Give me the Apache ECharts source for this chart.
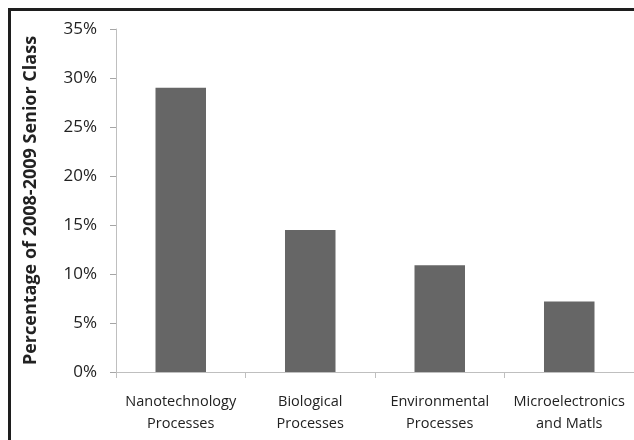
<!DOCTYPE html>
<html>
<head>
<meta charset="utf-8">
<script src="https://cdn.jsdelivr.net/npm/echarts@6/dist/echarts.min.js"></script>
<style>html,body{margin:0;padding:0;background:#fff}#c{width:634px;height:440px}</style>
</head>
<body>
<div id="c"></div>
<script>
const categories = ['Nanotechnology\nProcesses', 'Biological\nProcesses', 'Environmental\nProcesses', 'Microelectronics\nand Matls'];
const values = [29.0, 14.5, 10.9, 7.2];
const yAxisName = 'Percentage of 2008-2009 Senior Class';
const yMin = 0, yMax = 35, yStep = 5;

const chart = echarts.init(document.getElementById('c'), null, {renderer: 'canvas'});
const FONT = '"Open Sans", "Liberation Sans", sans-serif';
chart.setOption({
  animation: false,
  backgroundColor: '#fff',
  grid: {left: 116, right: 0, top: 29, bottom: 68},
  xAxis: {
    type: 'category',
    data: categories,
    axisLine: {lineStyle: {color: '#bfbfbf', width: 1}},
    axisTick: {show: true, length: 6, lineStyle: {color: '#bfbfbf'}},
    axisLabel: {interval: 0, color: '#222', fontFamily: FONT, fontSize: 14.5, lineHeight: 22, margin: 19}
  },
  yAxis: {
    type: 'value',
    min: yMin, max: yMax, interval: yStep,
    name: yAxisName,
    nameLocation: 'middle',
    nameGap: 76,
    nameTextStyle: {color: '#222', fontFamily: FONT, fontSize: 18, fontWeight: 'bold'},
    axisLine: {show: true, lineStyle: {color: '#bfbfbf', width: 1}},
    axisTick: {show: true, length: 6, lineStyle: {color: '#a6a6a6'}},
    splitLine: {show: false},
    axisLabel: {color: '#222', fontFamily: FONT, fontSize: 17, margin: 19, formatter: v => v + '%'}
  },
  series: [{
    type: 'bar',
    data: values,
    barWidth: '39%',
    itemStyle: {color: '#666666'}
  }],
  graphic: [
    {type: 'rect', shape: {x: 8, y: 8, width: 626, height: 3}, style: {fill: '#1e1e1e'}},
    {type: 'rect', shape: {x: 8, y: 8, width: 3, height: 432}, style: {fill: '#1e1e1e'}}
  ]
});
</script>
</body>
</html>
